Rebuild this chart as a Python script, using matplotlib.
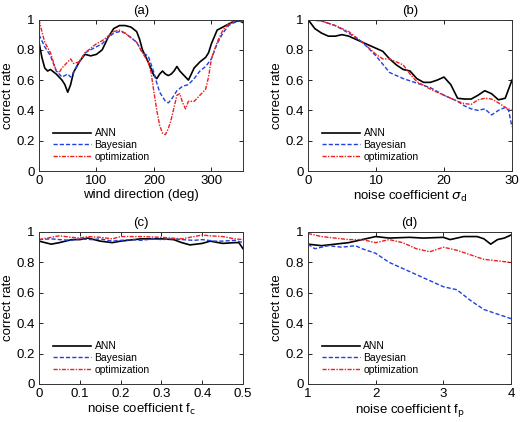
import matplotlib
matplotlib.use("Agg")
import matplotlib.pyplot as plt
import numpy as np

plt.rcParams['font.family'] = ['Liberation Sans', 'DejaVu Sans']
plt.rcParams['font.size'] = 9.5

# ---------------- data ----------------
# (a) wind direction
a_ann_x = [0, 5, 10, 15, 20, 30, 40, 45, 50, 55, 60, 70, 80, 90, 100, 110, 115, 120, 130, 140, 150, 160, 170, 175,
           180, 190, 200, 205, 210, 215, 220, 225, 230, 235, 240, 245, 250, 260, 265, 270, 280, 290, 295, 300, 310,
           320, 330, 340, 350, 355]
a_ann_y = [0.85, 0.75, 0.68, 0.66, 0.67, 0.64, 0.60, 0.57, 0.52, 0.57, 0.65, 0.72, 0.77, 0.76, 0.77, 0.80, 0.84,
           0.88, 0.94, 0.96, 0.96, 0.95, 0.92, 0.87, 0.80, 0.72, 0.63, 0.61, 0.64, 0.66, 0.64, 0.63, 0.64, 0.66,
           0.69, 0.66, 0.64, 0.60, 0.64, 0.68, 0.72, 0.75, 0.78, 0.84, 0.93, 0.95, 0.97, 0.99, 0.99, 0.98]
a_bay_x = [0, 10, 20, 30, 40, 50, 55, 60, 70, 80, 90, 100, 110, 120, 130, 140, 150, 160, 170, 180, 190, 200, 205,
           210, 220, 225, 230, 240, 250, 260, 270, 280, 290, 300, 310, 320, 330, 340, 350, 355]
a_bay_y = [0.90, 0.82, 0.76, 0.66, 0.62, 0.64, 0.62, 0.65, 0.72, 0.78, 0.80, 0.82, 0.84, 0.88, 0.91, 0.92, 0.91,
           0.88, 0.85, 0.78, 0.76, 0.65, 0.58, 0.52, 0.46, 0.45, 0.47, 0.53, 0.56, 0.57, 0.61, 0.66, 0.69, 0.74,
           0.84, 0.91, 0.96, 0.98, 0.99, 0.98]
a_opt_x = [0, 5, 10, 20, 30, 35, 40, 50, 55, 60, 70, 80, 90, 100, 110, 120, 130, 140, 150, 160, 170, 180, 190, 195,
           200, 205, 210, 215, 220, 225, 230, 235, 240, 245, 250, 255, 260, 270, 280, 290, 295, 300, 310, 320, 330,
           340, 350, 355]
a_opt_y = [1.00, 0.92, 0.85, 0.78, 0.66, 0.65, 0.68, 0.72, 0.74, 0.71, 0.72, 0.78, 0.81, 0.84, 0.86, 0.89, 0.92,
           0.93, 0.91, 0.88, 0.85, 0.78, 0.72, 0.65, 0.52, 0.40, 0.30, 0.25, 0.24, 0.28, 0.34, 0.42, 0.50, 0.51,
           0.45, 0.41, 0.46, 0.46, 0.50, 0.54, 0.62, 0.74, 0.85, 0.93, 0.97, 0.99, 1.00, 0.99]

# (b) noise coefficient sigma_d
b_ann_x = list(range(0, 31))
b_ann_y = [1.00, 0.94, 0.91, 0.89, 0.89, 0.90, 0.89, 0.87, 0.85, 0.83, 0.81, 0.79, 0.74, 0.70, 0.67, 0.66, 0.61,
           0.585, 0.585, 0.60, 0.62, 0.57, 0.48, 0.475, 0.475, 0.50, 0.53, 0.51, 0.47, 0.48, 0.60]
b_bay_x = [0, 2, 4, 6, 8, 10, 12, 14, 16, 18, 20, 22, 23, 24, 25, 26, 27, 28, 29, 29.5, 30]
b_bay_y = [1.00, 0.99, 0.96, 0.91, 0.85, 0.76, 0.65, 0.61, 0.58, 0.55, 0.50, 0.46, 0.43, 0.41, 0.40, 0.41, 0.37,
           0.40, 0.42, 0.40, 0.29]
b_opt_x = [0, 2, 4, 6, 8, 10, 11, 12, 13, 14, 15, 16, 18, 20, 22, 23, 24, 25, 26, 27, 28, 29, 30]
b_opt_y = [1.00, 0.99, 0.96, 0.92, 0.85, 0.77, 0.74, 0.74, 0.72, 0.70, 0.64, 0.59, 0.54, 0.50, 0.46, 0.445, 0.44,
           0.47, 0.48, 0.475, 0.45, 0.42, 0.40]

# (c) noise coefficient f_c
c_ann_x = [0, 0.03, 0.05, 0.08, 0.10, 0.12, 0.15, 0.18, 0.20, 0.25, 0.30, 0.33, 0.35, 0.37, 0.40, 0.42, 0.45,
           0.48, 0.49, 0.50]
c_ann_y = [0.94, 0.92, 0.93, 0.95, 0.95, 0.96, 0.94, 0.93, 0.94, 0.955, 0.955, 0.95, 0.93, 0.915, 0.925, 0.94,
           0.925, 0.93, 0.93, 0.89]
c_bay_x = [0, 0.03, 0.05, 0.08, 0.10, 0.13, 0.15, 0.18, 0.20, 0.23, 0.25, 0.28, 0.30, 0.33, 0.35, 0.38, 0.40,
           0.43, 0.45, 0.48, 0.50]
c_bay_y = [0.95, 0.955, 0.95, 0.945, 0.955, 0.95, 0.955, 0.94, 0.945, 0.95, 0.945, 0.955, 0.95, 0.955, 0.95,
           0.945, 0.95, 0.94, 0.94, 0.945, 0.93]
c_opt_x = [0, 0.03, 0.05, 0.08, 0.10, 0.12, 0.15, 0.18, 0.20, 0.25, 0.30, 0.35, 0.38, 0.40, 0.42, 0.45, 0.48,
           0.50]
c_opt_y = [0.95, 0.965, 0.975, 0.965, 0.96, 0.97, 0.965, 0.955, 0.97, 0.97, 0.965, 0.955, 0.97, 0.98, 0.975,
           0.97, 0.955, 0.95]

# (d) noise coefficient f_p
d_ann_x = [1.0, 1.2, 1.4, 1.6, 1.8, 2.0, 2.2, 2.5, 2.7, 3.0, 3.1, 3.3, 3.5, 3.6, 3.7, 3.8, 3.9, 4.0]
d_ann_y = [0.92, 0.91, 0.92, 0.93, 0.95, 0.97, 0.96, 0.965, 0.96, 0.965, 0.95, 0.97, 0.97, 0.955, 0.92, 0.95,
           0.96, 0.98]
d_bay_x = [1.0, 1.1, 1.3, 1.5, 1.7, 1.8, 2.0, 2.2, 2.4, 2.6, 2.8, 3.0, 3.2, 3.4, 3.6, 3.8, 4.0]
d_bay_y = [0.92, 0.89, 0.91, 0.90, 0.91, 0.89, 0.86, 0.80, 0.76, 0.72, 0.68, 0.64, 0.62, 0.55, 0.49, 0.46, 0.43]
d_opt_x = [1.0, 1.2, 1.4, 1.6, 1.8, 2.0, 2.2, 2.4, 2.6, 2.8, 3.0, 3.2, 3.4, 3.6, 3.8, 4.0]
d_opt_y = [0.99, 0.97, 0.96, 0.95, 0.95, 0.93, 0.95, 0.93, 0.89, 0.87, 0.90, 0.88, 0.85, 0.82, 0.81, 0.80]

series_labels = ['ANN', 'Bayesian', 'optimization']
titles = ['(a)', '(b)', '(c)', '(d)']
xlabels = ['wind direction (deg)', r'noise coefficient $\sigma_\mathrm{d}$',
           r'noise coefficient f$_\mathrm{c}$', r'noise coefficient f$_\mathrm{p}$']
xlims = [(0, 355), (0, 30), (0, 0.5), (1, 4)]
xticks = [[0, 100, 200, 300], [0, 10, 20, 30], [0, 0.1, 0.2, 0.3, 0.4, 0.5], [1, 2, 3, 4]]
yticks = [0, 0.2, 0.4, 0.6, 0.8, 1]
ytick_labels = ['0', '0.2', '0.4', '0.6', '0.8', '1']

panels = [
    ((a_ann_x, a_ann_y), (a_bay_x, a_bay_y), (a_opt_x, a_opt_y)),
    ((b_ann_x, b_ann_y), (b_bay_x, b_bay_y), (b_opt_x, b_opt_y)),
    ((c_ann_x, c_ann_y), (c_bay_x, c_bay_y), (c_opt_x, c_opt_y)),
    ((d_ann_x, d_ann_y), (d_bay_x, d_bay_y), (d_opt_x, d_opt_y)),
]

W, H = 520, 422
fig = plt.figure(figsize=(W / 100, H / 100), dpi=100)
# axes boxes in pixels: left, top, right, bottom
boxes = [(39, 19.5, 243, 171), (308, 19.5, 512, 171), (39, 232, 243, 384), (308, 232, 511, 384)]
styles = [dict(color='black', ls='-', lw=1.2),
          dict(color='#2040e0', ls=(0, (3, 1.5)), lw=1.0),
          dict(color='#ee2020', ls=(0, (3, 1, 1, 1)), lw=1.0)]

for i, (box, data) in enumerate(zip(boxes, panels)):
    l, t, r, b = box
    ax = fig.add_axes([l / W, 1 - b / H, (r - l) / W, (b - t) / H])
    for (xs, ys), st, lab in zip(data, styles, series_labels):
        ax.plot(xs, ys, label=lab, **st)
    ax.set_xlim(*xlims[i])
    ax.set_ylim(0, 1)
    ax.set_xticks(xticks[i])
    ax.set_xticklabels([('%g' % v) for v in xticks[i]])
    ax.set_yticks(yticks)
    ax.set_yticklabels(ytick_labels)
    ax.tick_params(direction='in', top=True, right=True, length=3, width=0.6, pad=3, labelsize=9.5)
    for sp in ax.spines.values():
        sp.set_linewidth(0.7)
        sp.set_color('#333333')
    ax.set_title(titles[i], fontsize=9.5, pad=4)
    ax.set_xlabel(xlabels[i], fontsize=9.5, labelpad=1)
    ax.set_ylabel('correct rate', fontsize=9.5, labelpad=2)
    ax.legend(loc='lower left', bbox_to_anchor=(0.05, 0.035), frameon=False, fontsize=7.5,
              handlelength=3.6, handletextpad=0.35, labelspacing=0.15, borderaxespad=0)

fig.savefig('out.png', dpi=100)
